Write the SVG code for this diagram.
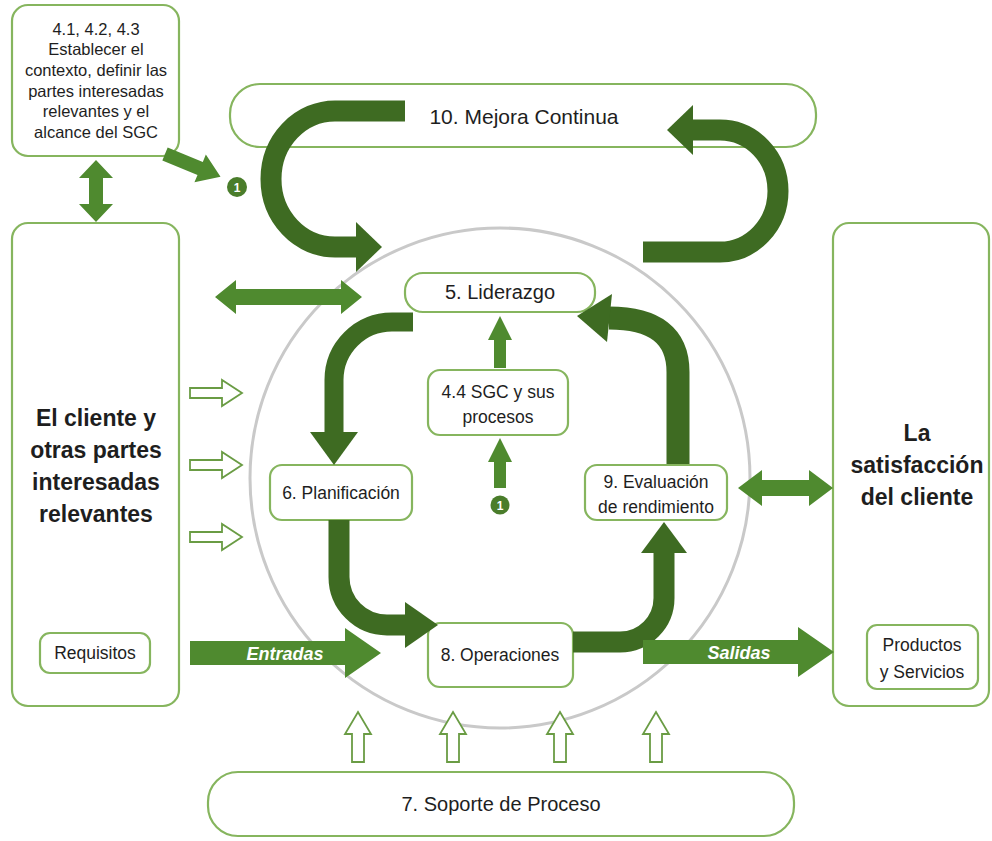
<svg xmlns="http://www.w3.org/2000/svg" width="992" height="841" viewBox="0 0 992 841">
<defs>
<style>
.box{fill:#fff;stroke:#86b55e;stroke-width:2.2}
.t{font-family:"Liberation Sans",Arial,sans-serif;fill:#1e1e1e;text-anchor:middle}
.b{font-weight:bold}
.cur{fill:none;stroke:#3e6b22;stroke-width:21}
.curh{fill:#3e6b22}
.st{fill:#4f8a2f}
.hol{fill:#fff;stroke:#6a9c44;stroke-width:1.8}
.wt{font-family:"Liberation Sans",Arial,sans-serif;fill:#fff;font-weight:bold;font-style:italic;text-anchor:middle}
.one{fill:#4a7d2b}
.onet{font-family:"Liberation Sans",Arial,sans-serif;fill:#fff;font-size:12px;font-weight:bold;text-anchor:middle}
</style>
<path id="hr" d="M0,-5 H32 V-13 L52,0 L32,13 V5 H0 Z"/>
<path id="hu" d="M-6,50 V22 H-13 L0,0 L13,22 H6 V50 Z"/>
</defs>
<rect width="992" height="841" fill="#fff"/>
<circle id="ring" cx="500" cy="478" r="250" fill="none" stroke="#c9c9c9" stroke-width="3"/>

<g id="n-contexto">
<rect class="box" x="12" y="5" width="167" height="151" rx="16"/>
<text class="t" font-size="16.5" x="96"><tspan x="96" y="35">4.1, 4.2, 4.3</tspan><tspan x="96" y="55">Establecer el</tspan><tspan x="96" y="76">contexto, definir las</tspan><tspan x="96" y="97">partes interesadas</tspan><tspan x="96" y="117">relevantes y el</tspan><tspan x="96" y="138">alcance del SGC</tspan></text>
</g>
<g id="n-mejora">
<rect class="box" x="230" y="84" width="586" height="63" rx="30"/>
<text class="t" font-size="21" x="524" y="124">10. Mejora Continua</text>
</g>
<g id="n-cliente">
<rect class="box" x="12" y="223" width="167" height="483" rx="16"/>
<text class="t b" font-size="23"><tspan x="96" y="426">El cliente y</tspan><tspan x="96" y="458">otras partes</tspan><tspan x="96" y="490">interesadas</tspan><tspan x="96" y="522">relevantes</tspan></text>
</g>
<g id="n-requisitos">
<rect class="box" x="40" y="633" width="110" height="40" rx="10"/>
<text class="t" font-size="17.5" x="95" y="659">Requisitos</text>
</g>
<g id="n-satisfaccion">
<rect class="box" x="833" y="223" width="156" height="483" rx="16"/>
<text class="t b" font-size="23"><tspan x="917" y="441">La</tspan><tspan x="917" y="473">satisfacción</tspan><tspan x="917" y="505">del cliente</tspan></text>
</g>
<g id="n-productos">
<rect class="box" x="867" y="625" width="111" height="64" rx="10"/>
<text class="t" font-size="17.5"><tspan x="922" y="651">Productos</tspan><tspan x="922" y="678">y Servicios</tspan></text>
</g>
<g id="n-liderazgo">
<rect class="box" x="405" y="273" width="190" height="39" rx="18"/>
<text class="t" font-size="20" x="500" y="299">5. Liderazgo</text>
</g>
<g id="n-sgc">
<rect class="box" x="428" y="370" width="140" height="65" rx="12"/>
<text class="t" font-size="17.5"><tspan x="498" y="398">4.4 SGC y sus</tspan><tspan x="498" y="423">procesos</tspan></text>
</g>
<g id="n-planificacion">
<rect class="box" x="270" y="465" width="142" height="55" rx="12"/>
<text class="t" font-size="17.5" x="341" y="499">6. Planificación</text>
</g>
<g id="n-evaluacion">
<rect class="box" x="585" y="465" width="142" height="55" rx="12"/>
<text class="t" font-size="17.5"><tspan x="656" y="488">9. Evaluación</tspan><tspan x="656" y="513">de rendimiento</tspan></text>
</g>
<g id="n-operaciones">
<rect class="box" x="428" y="623" width="145" height="64" rx="12"/>
<text class="t" font-size="17.5" x="500" y="661">8. Operaciones</text>
</g>
<g id="n-soporte">
<rect class="box" x="208" y="772" width="586" height="64" rx="30"/>
<text class="t" font-size="20" x="501" y="811">7. Soporte de Proceso</text>
</g>
<g id="n-uno-a">
<circle class="one" cx="237" cy="187" r="10"/>
<text class="onet" x="237" y="191.5">1</text>
</g>
<g id="n-uno-b">
<circle class="one" cx="500" cy="505" r="9.5"/>
<text class="onet" x="500" y="509.5">1</text>
</g>

<g id="connectors">
<path class="cur" d="M405,111 L335,111 A64,68 0 0 0 335,247 L358,247"/>
<polygon class="curh" points="356,222 356,272 382,247"/>
<path class="cur" d="M643,252 L720,252 A58,61 0 0 0 720,130 L692,130"/>
<polygon class="curh" points="693,105 693,155 667,130"/>
<path class="cur" d="M413,322 L392,322 A58,58 0 0 0 334,380 L334,433" style="stroke-width:19"/>
<polygon class="curh" points="310,432 358,432 334,465"/>
<path class="cur" d="M339,520 L339,577 A48,48 0 0 0 387,625 L406,625"/>
<polygon class="curh" points="405,602 405,648 438,625"/>
<path class="cur" d="M573,642 L620,642 A44,44 0 0 0 664,598 L664,552"/>
<polygon class="curh" points="641,553 687,553 664,522"/>
<path class="cur" d="M678,464 L678,372 C678,336 655,318 609,318" style="stroke-width:23"/>
<polygon class="curh" points="612,294 607,342 577,316"/>

<path class="st" d="M96,160 L113,178 L103,178 L103,204 L113,204 L96,222 L79,204 L89,204 L89,178 L79,178 Z"/>
<path class="st" d="M0,-7 H38 V-15 L60,0 L38,15 V7 H0 Z" transform="translate(165,154) rotate(22.3)"/>
<path class="st" d="M215,297 L236,280 L236,289 L341,289 L341,280 L362,297 L341,314 L341,305 L236,305 L236,314 Z"/>
<path class="st" d="M738,488 L762,470 L762,480 L809,480 L809,470 L833,488 L809,506 L809,496 L762,496 L762,506 Z"/>
<path class="st" d="M494,368 V340 H488 L500,316 L512,340 H506 V368 Z"/>
<path class="st" d="M494,488 V462 H488 L500,438 L512,462 H506 V488 Z"/>
<path class="st" d="M190,641 H345 V628 L381,653 L345,678 V665 H190 Z"/>
<text class="wt" font-size="18" x="285" y="660">Entradas</text>
<path class="st" d="M643,640 H798 V627 L834,652 L798,677 V664 H643 Z"/>
<text class="wt" font-size="18" x="739" y="659">Salidas</text>

<use href="#hr" class="hol" x="190" y="393"/>
<use href="#hr" class="hol" x="190" y="465"/>
<use href="#hr" class="hol" x="190" y="537"/>
<use href="#hu" class="hol" x="358" y="712"/>
<use href="#hu" class="hol" x="453" y="712"/>
<use href="#hu" class="hol" x="560" y="712"/>
<use href="#hu" class="hol" x="656" y="712"/>
</g>
</svg>
